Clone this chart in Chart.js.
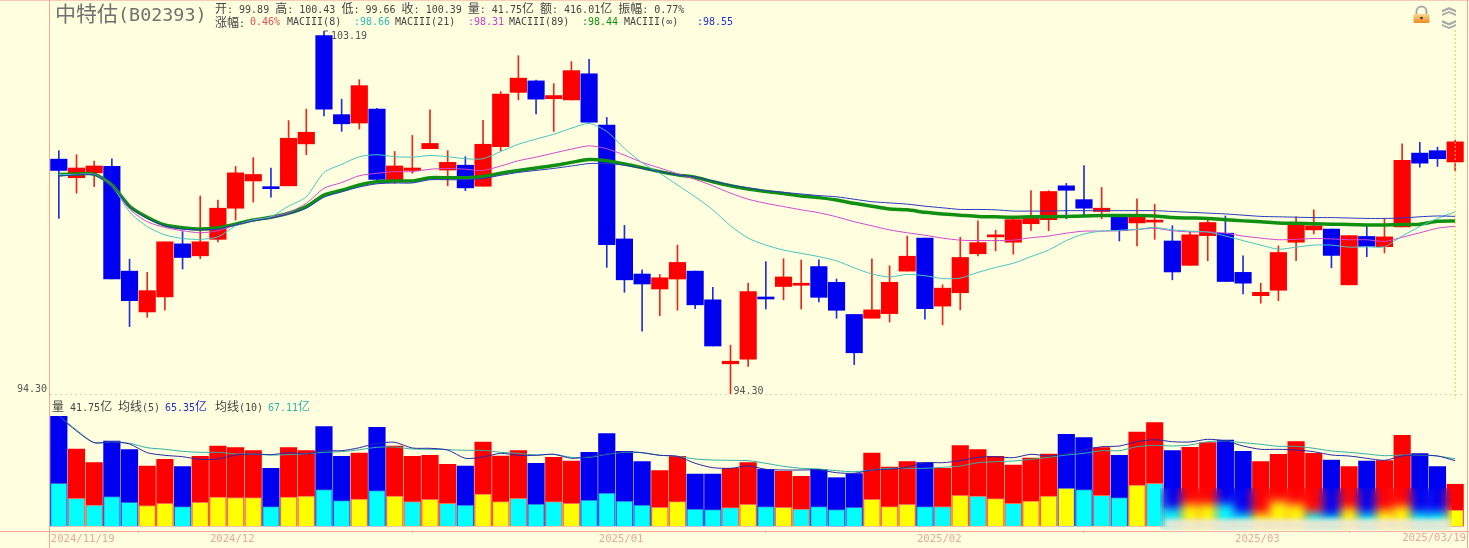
<!DOCTYPE html>
<html>
<head>
<meta charset="utf-8">
<script src="https://cdn.jsdelivr.net/npm/chart.js@4/dist/chart.umd.min.js"></script>
<style>
  html, body { margin: 0; padding: 0; background: #ffffe0; overflow: hidden; }
  #wrap { position: relative; width: 1469px; height: 548px; background: #ffffe0; }
  canvas { position: absolute; left: 0; }
  .line { position: absolute; background: #f2a898; }
  .t { position: absolute; white-space: pre; font: 10px/13px "DejaVu Sans Mono", monospace; color: #444; z-index: 3; }
  .t i { font: normal 12px/13px "Noto Sans CJK SC", sans-serif; }
  #smudge { position: absolute; left: 1160px; top: 488px; width: 292px; height: 42px; z-index: 2;
    backdrop-filter: blur(5px); }
  #smudgeBase { position: absolute; left: 1165px; top: 519px; width: 285px; height: 11px; z-index: 2;
    background: #efe8d4; opacity: 0.9; filter: blur(2px); }
</style>
</head>
<body>
<div id="wrap">
  <div class="line" style="left:49px;top:0;width:1px;height:548px"></div>
  <div class="line" style="left:0;top:0;width:1469px;height:1px;opacity:.6"></div>
  <div class="line" style="left:1467px;top:0;width:1px;height:548px"></div>
  <div class="line" style="left:0;top:531px;width:1469px;height:1px"></div>

  <canvas id="priceChart" width="1469" height="400" style="top:0"></canvas>
  <canvas id="volChart" width="1469" height="148" style="top:400px"></canvas>
  <div id="smudge"></div>
  <div id="smudgeBase"></div>

  <div class="t" style="left:55px;top:1px;font-size:18.4px;line-height:23px;color:#707070"><i style="font-size:21px;line-height:23px">中特估</i>(B02393)</div>
  <div class="t" style="left:215px;top:1px"><i>开</i>: 99.89 <i>高</i>: 100.43 <i>低</i>: 99.66 <i>收</i>: 100.39 <i>量</i>: 41.75<i>亿</i> <i>额</i>: 416.01<i>亿</i> <i>振幅</i>: 0.77%</div>
  <div class="t" style="left:215px;top:15px"><i>涨幅</i>:</div>
  <div class="t" style="left:250px;top:15px;color:#e05050">0.46%</div>
  <div class="t" style="left:287px;top:15px">MACIII(8)</div>
  <div class="t" style="left:354px;top:15px;color:#30b8b8">:98.66</div>
  <div class="t" style="left:395px;top:15px">MACIII(21)</div>
  <div class="t" style="left:468px;top:15px;color:#c840c8">:98.31</div>
  <div class="t" style="left:509px;top:15px">MACIII(89)</div>
  <div class="t" style="left:582px;top:15px;color:#109010">:98.44</div>
  <div class="t" style="left:624px;top:15px">MACIII(∞)</div>
  <div class="t" style="left:697px;top:15px;color:#2030d0">:98.55</div>

  <div class="t" style="left:52px;top:399px"><i>量</i> 41.75<i>亿</i></div>
  <div class="t" style="left:118px;top:399px"><i>均线</i>(5)</div>
  <div class="t" style="left:165px;top:399px;color:#2030c0">65.35<i>亿</i></div>
  <div class="t" style="left:215px;top:399px"><i>均线</i>(10)</div>
  <div class="t" style="left:268px;top:399px;color:#30b0a8">67.11<i>亿</i></div>

  <svg style="position:absolute;left:1410px;top:4px;z-index:3" width="50" height="30" viewBox="0 0 50 30">
    <defs><linearGradient id="lockFill" x1="0" y1="0" x2="0" y2="1">
      <stop offset="0" stop-color="#f8d890"/><stop offset="1" stop-color="#ee8a20"/></linearGradient></defs>
    <path d="M6.5 10 V7.5 a5 5 0 0 1 10 0 V10" fill="none" stroke="#a8a8a8" stroke-width="2"/>
    <rect x="3.5" y="10" width="16" height="9" rx="1.5" fill="url(#lockFill)"/>
    <circle cx="11.5" cy="14" r="1.3" fill="#503010"/>
    <path d="M32 7 l7 -3 l7 3 v2.5 l-7 -3 l-7 3 z M32 11 l7 -3 l7 3 v2 l-7 -3 l-7 3 z" fill="#a8aca8" transform="translate(0,-1)"/>
    <path d="M32 17 l7 3 l7 -3 v2.5 l-7 3 l-7 -3 z M32 21 l7 3 l7 -3 v2 l-7 3 l-7 -3 z" fill="#a8aca8" transform="translate(0,-1)"/>
  </svg>
</div>

<script>
const openP = [
  99.96, 99.50, 99.62, 99.78, 97.22, 96.24, 96.60, 97.88, 97.59, 97.99,
  98.75, 99.42, 99.25, 99.30, 100.34, 103.07, 101.07, 100.86, 101.21, 99.43,
  99.68, 100.22, 99.69, 99.81, 99.29, 100.27, 101.63, 101.92, 101.47, 101.44,
  102.10, 100.81, 98.00, 97.15, 96.79, 97.03, 97.22, 96.53, 95.01, 95.12,
  96.59, 96.85, 96.88, 97.33, 96.95, 96.18, 96.09, 96.20, 97.22, 98.02,
  96.38, 96.70, 97.64, 98.05, 97.92, 98.37, 98.47, 99.30, 98.96, 98.67,
  98.54, 98.39, 98.41, 97.95, 97.36, 98.08, 98.14, 97.19, 96.63, 96.76,
  97.92, 98.22, 98.24, 96.89, 98.06, 97.81, 98.29, 100.11, 100.17, 99.89
];
const closeP = [
  99.68, 99.74, 99.79, 97.03, 96.51, 96.75, 97.93, 97.55, 97.93, 98.75,
  99.62, 99.58, 99.23, 100.48, 100.63, 101.21, 100.84, 101.80, 99.46, 99.79,
  99.74, 100.35, 99.88, 99.25, 100.33, 101.59, 101.99, 101.46, 101.55, 102.18,
  100.88, 97.86, 97.01, 96.91, 97.06, 97.43, 96.41, 95.43, 95.07, 96.73,
  96.55, 97.08, 96.91, 96.59, 96.28, 95.27, 96.29, 96.95, 97.58, 96.32,
  96.81, 97.55, 97.91, 98.07, 98.47, 98.51, 99.16, 99.19, 98.75, 98.75,
  98.20, 98.54, 98.45, 97.20, 98.10, 98.40, 96.97, 96.93, 96.71, 97.67,
  98.35, 98.32, 97.60, 98.08, 97.82, 98.05, 99.93, 99.86, 99.97, 100.39
];
const highP = [
  100.17, 100.07, 99.91, 99.97, 97.51, 97.19, 97.93, 98.18, 99.05, 98.95,
  99.78, 100.00, 99.74, 100.92, 101.21, 103.19, 101.46, 101.95, 101.23, 100.15,
  100.55, 101.19, 100.17, 100.02, 100.93, 101.65, 102.56, 101.94, 101.85, 102.41,
  102.47, 101.00, 98.33, 97.25, 97.14, 97.85, 97.22, 96.83, 95.45, 96.93,
  97.45, 97.52, 97.49, 97.49, 97.03, 96.18, 97.52, 97.35, 98.07, 98.02,
  96.89, 98.04, 98.44, 98.21, 98.51, 99.18, 99.18, 99.36, 99.80, 99.26,
  98.54, 98.98, 98.85, 98.32, 98.17, 98.48, 98.56, 97.59, 96.93, 97.83,
  98.54, 98.71, 98.24, 98.08, 98.34, 98.50, 100.34, 100.38, 100.26, 100.43
];
const lowP = [
  98.50, 99.12, 99.28, 97.03, 95.89, 96.11, 96.28, 97.27, 97.52, 97.93,
  98.46, 98.90, 99.02, 99.30, 100.07, 101.04, 100.65, 100.71, 99.40, 99.36,
  99.61, 100.22, 99.30, 99.18, 99.29, 100.17, 101.44, 101.09, 100.65, 101.44,
  100.88, 97.31, 96.71, 95.78, 96.15, 96.28, 96.32, 95.43, 94.30, 94.95,
  96.31, 96.53, 96.31, 96.48, 96.09, 94.99, 96.09, 96.00, 97.22, 96.07,
  95.93, 96.29, 97.59, 97.71, 97.63, 98.21, 98.20, 98.49, 98.58, 98.49,
  97.95, 97.83, 97.99, 97.01, 97.36, 97.47, 96.97, 96.67, 96.45, 96.51,
  97.47, 98.12, 97.30, 96.89, 97.57, 97.66, 98.29, 99.76, 99.78, 99.66
];
const ma8 = [
  99.58, 99.58, 99.58, 99.30, 98.66, 98.30, 98.10, 98.01, 97.99, 98.05,
  98.32, 98.46, 98.54, 98.80, 99.03, 99.63, 99.83, 100.02, 100.07, 100.02,
  100.01, 100.05, 100.02, 99.97, 99.97, 100.15, 100.33, 100.46, 100.58, 100.73,
  100.85, 100.65, 100.23, 99.87, 99.61, 99.32, 99.03, 98.71, 98.32, 98.02,
  97.85, 97.73, 97.65, 97.57, 97.47, 97.30, 97.15, 97.08, 97.14, 97.11,
  97.04, 97.05, 97.19, 97.31, 97.41, 97.57, 97.73, 97.96, 98.12, 98.19,
  98.21, 98.23, 98.28, 98.22, 98.19, 98.17, 98.07, 97.96, 97.85, 97.75,
  97.80, 97.85, 97.85, 97.80, 97.81, 97.81, 98.07, 98.30, 98.50, 98.66
];
const ma21 = [
  99.58, 99.58, 99.58, 99.31, 98.73, 98.42, 98.28, 98.20, 98.15, 98.20,
  98.34, 98.46, 98.53, 98.64, 98.87, 99.24, 99.38, 99.55, 99.61, 99.65,
  99.65, 99.71, 99.73, 99.71, 99.68, 99.79, 99.92, 100.01, 100.11, 100.21,
  100.29, 100.22, 100.06, 99.88, 99.74, 99.60, 99.46, 99.30, 99.12, 98.97,
  98.87, 98.79, 98.71, 98.64, 98.54, 98.42, 98.32, 98.22, 98.15, 98.09,
  98.02, 97.97, 97.96, 97.96, 97.97, 98.03, 98.07, 98.14, 98.19, 98.19,
  98.20, 98.23, 98.26, 98.20, 98.17, 98.17, 98.14, 98.07, 98.02, 97.98,
  97.99, 98.01, 98.00, 97.98, 97.98, 97.94, 98.04, 98.15, 98.26, 98.31
];
const ma89 = [
  99.58, 99.59, 99.59, 99.32, 98.80, 98.53, 98.34, 98.27, 98.24, 98.27,
  98.36, 98.46, 98.53, 98.63, 98.79, 99.07, 99.19, 99.32, 99.40, 99.42,
  99.42, 99.50, 99.50, 99.50, 99.53, 99.61, 99.68, 99.74, 99.80, 99.88,
  99.95, 99.92, 99.84, 99.75, 99.65, 99.57, 99.51, 99.40, 99.30, 99.22,
  99.16, 99.11, 99.05, 99.01, 98.95, 98.87, 98.80, 98.73, 98.71, 98.65,
  98.61, 98.58, 98.55, 98.54, 98.53, 98.54, 98.54, 98.55, 98.56, 98.57,
  98.57, 98.57, 98.56, 98.52, 98.51, 98.50, 98.47, 98.44, 98.42, 98.39,
  98.38, 98.37, 98.36, 98.35, 98.34, 98.34, 98.35, 98.36, 98.43, 98.44
];
const maInf = [
  99.54, 99.57, 99.57, 99.30, 98.78, 98.50, 98.32, 98.24, 98.22, 98.24,
  98.34, 98.44, 98.51, 98.61, 98.75, 99.02, 99.15, 99.27, 99.35, 99.37,
  99.37, 99.45, 99.45, 99.45, 99.48, 99.56, 99.63, 99.68, 99.73, 99.79,
  99.85, 99.85, 99.81, 99.73, 99.65, 99.57, 99.52, 99.42, 99.32, 99.25,
  99.18, 99.14, 99.10, 99.06, 99.03, 98.97, 98.91, 98.88, 98.85, 98.80,
  98.76, 98.72, 98.72, 98.71, 98.68, 98.68, 98.68, 98.69, 98.69, 98.69,
  98.69, 98.69, 98.69, 98.67, 98.65, 98.63, 98.61, 98.58, 98.55, 98.54,
  98.53, 98.52, 98.52, 98.51, 98.50, 98.50, 98.51, 98.54, 98.56, 98.55
];
const volume = [
  110, 77, 63.3, 85, 76.3, 60, 66.7, 59.3, 69.7, 80,
  78.3, 75.3, 57.7, 78.3, 75.3, 99.3, 69.7, 73, 98.7, 80,
  69.7, 70.7, 61.7, 60, 84, 70, 75.3, 62.7, 68.7, 65,
  73.7, 92.3, 74.7, 64.3, 55.3, 69.7, 52, 52, 57.7, 63.3,
  56.7, 54.7, 49.7, 56.7, 48.3, 52.3, 73, 59, 64.3, 63.3,
  57.7, 80.3, 76.3, 69.7, 61, 68, 72, 91.7, 88.3, 78.3,
  70.7, 94, 103.3, 75.3, 78.7, 83.3, 86, 74.7, 64.3, 71.7,
  84.3, 72.7, 66, 59.3, 65, 65.3, 90.7, 72.3, 59.3, 41.75
];
const lowerVol = [
  42.7, 27.7, 21, 29.3, 23.7, 20.3, 22.7, 19.3, 23.7, 29,
  28.3, 28.3, 19.3, 29, 30, 36.3, 25.3, 27, 35.3, 30,
  24.3, 26.7, 22.7, 21, 32, 24.3, 27.7, 22, 24.3, 22.7,
  26, 33, 25, 21, 18.7, 24.3, 17, 16.3, 18.3, 21.7,
  19.3, 18.7, 17, 19.3, 16.3, 18.7, 26.7, 19.3, 21.7, 19.3,
  19.3, 30.7, 30, 27.3, 22.7, 25, 30, 38, 36.3, 30.7,
  28.3, 41, 42.7, 17.7, 22, 22, 22, 13, 13, 25,
  22, 14, 11, 18, 13, 16, 20, 14, 14, 16
];
const yellowBars = [5, 6, 8, 9, 10, 11, 13, 14, 17, 19, 21, 24, 25, 29, 34, 35, 39, 41, 46, 47, 48, 51, 53, 55, 56, 57, 61, 64, 65, 68, 69, 70, 73, 75, 76, 79];
const volMa5 = [
  110, 95, 83.3, 84.3, 82, 73.3, 70.7, 69.3, 66.7, 67,
  71, 72, 71.3, 73.3, 72, 75.3, 75.3, 78.3, 82.7, 83.7,
  78, 77.7, 76, 67.7, 69, 72.7, 70.7, 70.7, 71.7, 67.7,
  69.3, 72, 74.3, 73.3, 70.7, 69.7, 62.7, 58.3, 57.7, 60,
  56.7, 56, 56, 56, 53.3, 52.7, 56, 56.7, 58.7, 63.3,
  63.3, 65.3, 68.7, 69.3, 68.3, 71.7, 70, 72, 76, 79.3,
  80, 84.3, 86.3, 84.3, 84, 86.7, 85, 80, 76.7, 76.7,
  76, 74.3, 71, 70, 67.7, 65.7, 70, 71, 70, 65.35
];
const volMa10 = [
  110, 96, 83.3, 84.3, 82.7, 78.3, 76.7, 74.7, 73.7, 73.7,
  72, 72, 71, 71.3, 72.3, 73.7, 74.3, 76.3, 78.7, 79,
  77, 76.7, 76.3, 75.7, 75.7, 73.7, 72.7, 71, 71.7, 68.7,
  68.7, 71.7, 73.7, 73.3, 70.7, 69.7, 67, 66, 65.7, 65.3,
  62.7, 59.7, 57.7, 57, 55.3, 54.3, 56, 57.7, 57.7, 57.7,
  58.7, 60, 63.3, 64.3, 65, 66.7, 68.7, 71, 72.7, 75.3,
  75.3, 79.3, 80.7, 80, 81, 84.3, 85, 83.3, 81.7, 79.7,
  79.7, 77.7, 75, 73.7, 72, 70.3, 71, 70.7, 70, 67.11
];
const tickPositions = [0, 9, 31, 49, 67, 79];
const tickLabels = ["2024/11/19", "2024/12", "2025/01", "2025/02", "2025/03", "2025/03/19"];
const categories = openP.map((v, i) => i);

const RED = "#ff0000";
const BLUE = "#0000f0";
const candleColors = openP.map((o, i) => (closeP[i] >= o ? RED : BLUE));
const wickColors = openP.map((o, i) => (closeP[i] >= o ? "#e8281c" : "#2030d8"));
const lowerColors = categories.map(i => (yellowBars.includes(i) ? "#ffff00" : "#00ffff"));
const MONO = '"DejaVu Sans Mono", monospace';

function lineSet(data, color, width, order) {
  return {
    type: "line", data, borderColor: color, borderWidth: width,
    pointRadius: 0, tension: 0.25, order
  };
}

const priceLabels = {
  id: "priceLabels",
  afterDatasetsDraw(chart) {
    const { ctx, scales: { x, y } } = chart;
    const hi = highP.indexOf(Math.max(...highP));
    const lo = lowP.indexOf(Math.min(...lowP));
    const lastX = x.getPixelForValue(categories.length - 1);
    ctx.save();
    ctx.strokeStyle = "#f0c040";
    ctx.setLineDash([2, 2]);
    ctx.beginPath();
    ctx.moveTo(lastX, 30);
    ctx.lineTo(lastX, 399);
    ctx.stroke();
    ctx.setLineDash([]);
    ctx.strokeStyle = "#555";
    ctx.beginPath();
    ctx.moveTo(x.getPixelForValue(hi), y.getPixelForValue(highP[hi]));
    ctx.lineTo(x.getPixelForValue(hi) + 4, y.getPixelForValue(highP[hi]));
    ctx.stroke();
    ctx.fillStyle = "#555";
    ctx.font = "10px " + MONO;
    ctx.textBaseline = "middle";
    ctx.fillText(highP[hi].toFixed(2), x.getPixelForValue(hi) + 7, y.getPixelForValue(highP[hi]) + 5);
    ctx.fillText(lowP[lo].toFixed(2), x.getPixelForValue(lo) + 3, y.getPixelForValue(lowP[lo]) - 3);
    ctx.textAlign = "right";
    ctx.fillText(lowP[lo].toFixed(2), 47, y.getPixelForValue(lowP[lo]) - 5);
    ctx.restore();
  }
};

new Chart(document.getElementById("priceChart"), {
  type: "bar",
  data: {
    labels: categories,
    datasets: [
      lineSet(maInf, "#2838c0", 1, 1),
      lineSet(ma8, "#48c4c0", 1, 1),
      lineSet(ma21, "#d048d0", 1, 1),
      lineSet(ma89, "#109010", 3.5, 2),
      {
        data: openP.map((o, i) => [o, closeP[i]]),
        backgroundColor: candleColors,
        barThickness: 16.5, grouped: false, minBarLength: 2, order: 3
      },
      {
        data: lowP.map((l, i) => [l, highP[i]]),
        backgroundColor: wickColors,
        barThickness: 1, grouped: false, order: 4
      }
    ]
  },
  options: {
    responsive: false,
    animation: false,
    events: [],
    layout: { padding: { left: 50, right: 5, top: 31, bottom: 6 } },
    plugins: { legend: { display: false }, tooltip: { enabled: false } },
    scales: {
      x: { display: false },
      y: {
        type: "logarithmic",
        min: 94.30,
        max: 103.19,
        afterBuildTicks: s => { s.ticks = [{ value: 94.30 }]; },
        ticks: { display: false },
        grid: { color: "#d8d8c0", drawTicks: false },
        border: { display: false, dash: [2, 3] }
      }
    }
  },
  plugins: [priceLabels]
});

const lastDate = {
  id: "lastDate",
  afterDraw(chart) {
    const { ctx, chartArea } = chart;
    ctx.save();
    ctx.fillStyle = "#e8a898";
    ctx.font = "10.6px " + MONO;
    ctx.textAlign = "right";
    ctx.textBaseline = "middle";
    ctx.fillText(tickLabels[tickLabels.length - 1], 1466, chartArea.bottom + 7);
    ctx.restore();
  }
};

new Chart(document.getElementById("volChart"), {
  type: "bar",
  data: {
    labels: categories,
    datasets: [
      lineSet(volMa5, "#2828a8", 1, 1),
      lineSet(volMa10, "#30b0a0", 1, 1),
      {
        data: lowerVol,
        backgroundColor: lowerColors,
        borderColor: candleColors.map(c => (c === RED ? "#f07050" : "#3060e0")),
        borderWidth: 1,
        barThickness: 16.5, grouped: false, order: 2
      },
      {
        data: volume,
        backgroundColor: candleColors,
        barThickness: 16.5, grouped: false, order: 3
      }
    ]
  },
  options: {
    responsive: false,
    animation: false,
    events: [],
    layout: { padding: { left: 50, right: 5, top: 16, bottom: 0 } },
    plugins: { legend: { display: false }, tooltip: { enabled: false } },
    scales: {
      x: {
        afterFit: s => { s.height = 17; },
        afterBuildTicks: s => { s.ticks = tickPositions.map(v => ({ value: v })); },
        ticks: {
          autoSkip: false, maxRotation: 0, align: "start", labelOffset: -8, padding: 0,
          color: "#e8a898",
          font: { family: MONO, size: 10.6 },
          callback: (v, i) => (i === tickPositions.length - 1 ? "" : tickLabels[i])
        },
        grid: { drawOnChartArea: false, tickLength: 2, color: "#f2a898" },
        border: { display: false }
      },
      y: {
        display: false,
        min: -5,
        max: 110
      }
    }
  },
  plugins: [lastDate]
});
</script>
</body>
</html>
